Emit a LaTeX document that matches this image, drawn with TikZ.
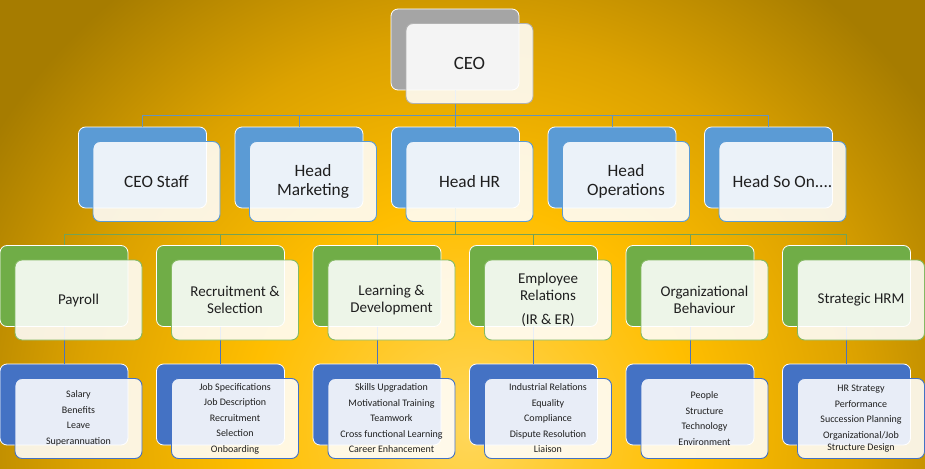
\documentclass[tikz,border=0pt]{standalone}
\usepackage{fontspec}
\setmainfont{Carlito}
\usetikzlibrary{positioning}

\definecolor{goldin}{HTML}{FFD75A}
\definecolor{goldhi}{HTML}{FFCA2C}
\definecolor{goldmid}{HTML}{FFBE00}
\definecolor{goldlo}{HTML}{DCA200}
\definecolor{goldout}{HTML}{A67C00}
\definecolor{ceogray}{HTML}{A5A5A5}
\definecolor{headblue}{HTML}{5B9BD5}
\definecolor{areagreen}{HTML}{70AD47}
\definecolor{taskblue}{HTML}{4472C4}

\pgfdeclareradialshading{goldbg}{\pgfpoint{0bp}{0bp}}{color(0bp)=(goldin);
  color(5bp)=(goldhi); color(10bp)=(goldmid); color(17.5bp)=(goldlo);
  color(25bp)=(goldout); color(50bp)=(goldout)}

\begin{document}
\begin{tikzpicture}[x=1pt, y=-1pt,
    bk/.style={draw=white, line width=0.8pt, rounded corners=7pt,
               minimum width=128pt, minimum height=81pt, inner sep=0pt},
    fr/.style={fill=white, fill opacity=0.88, text opacity=1, line width=0.9pt,
               rounded corners=7pt, minimum width=127pt, minimum height=80pt,
               inner sep=2pt, align=center, text=black!88},
    ceob/.style={bk, fill=ceogray},
    ceof/.style={fr, draw=ceogray!85, font=\fontsize{18.8}{22}\selectfont},
    hdb/.style={bk, fill=headblue},
    hdf/.style={fr, draw=headblue, font=\fontsize{17.3}{19}\selectfont},
    arb/.style={bk, fill=areagreen},
    arf/.style={fr, draw=areagreen!85!white, font=\fontsize{15}{16.7}\selectfont},
    tkb/.style={bk, fill=taskblue},
    tkf/.style={fr, draw=taskblue, font=\fontsize{10}{15.5}\selectfont},
    lnk/.style={line width=0.9pt}]
  \useasboundingbox (0,0) rectangle (925,468);

  % gold background, bright near bottom middle
  \begin{scope}
    \clip (0,0) rectangle (925,468);
    \shade[shading=goldbg] (-90,-130) rectangle (1030,990);
  \end{scope}

  % back cards
  \node[ceob] (ceo) at (455,49.5) {};
  \foreach \i in {1,...,5}{ \node[hdb] (h\i) at ({142.5+156.5*(\i-1)},167.5) {}; }
  \foreach \i in {1,...,6}{ \node[arb] (a\i) at ({64+156.5*(\i-1)},286) {}; }
  \foreach \i in {1,...,6}{ \node[tkb] (t\i) at ({64+156.5*(\i-1)},404.5) {}; }

  % connectors
  \foreach \i in {1,...,5}{
    \draw[lnk, headblue!70!gray] (ceo.south) -- ++(0,25) -| (h\i.north);
  }
  \foreach \i in {1,...,6}{
    \draw[lnk, areagreen!75!gray] (h3.south) -- ++(0,26) -| (a\i.north);
  }
  \foreach \i in {1,...,6}{
    \draw[lnk, taskblue!85!gray] (a\i.south) -- (t\i.north);
  }

  % front cards with the texts
  \node[ceof] (ceof) at ([shift={(14.5,14)}]ceo) {CEO};
  \foreach \i/\t in {1/{CEO Staff}, 2/{Head\\Marketing}, 3/{Head HR},
                     4/{Head\\Operations}, 5/{Head So On....}}{
    \node[hdf] (h\i f) at ([shift={(14,14)}]h\i) {\t};
  }
  \foreach \i/\t in {1/{Payroll}, 2/{Recruitment \&\\Selection},
                     3/{Learning \&\\Development},
                     4/{Employee\\Relations\\[8pt](IR \& ER)},
                     5/{Organizational\\Behaviour}, 6/{Strategic HRM}}{
    \node[arf] (a\i f) at ([shift={(14.5,14)}]a\i) {\t};
  }
  \foreach \i/\t in {1/{Salary\\Benefits\\Leave\\Superannuation},
      2/{Job Specifications\\Job Description\\Recruitment\\Selection\\Onboarding},
      3/{Skills Upgradation\\Motivational Training\\Teamwork\\Cross functional Learning\\Career Enhancement},
      4/{Industrial Relations\\Equality\\Compliance\\Dispute Resolution\\Liaison},
      5/{People\\Structure\\Technology\\Environment},
      6/{HR Strategy\\Performance\\Succession Planning\\Organizational/Job\\[-3.5pt]Structure Design}}{
    \node[tkf] (t\i f) at ([shift={(14.5,14)}]t\i) {\t};
  }
\end{tikzpicture}
\end{document}
